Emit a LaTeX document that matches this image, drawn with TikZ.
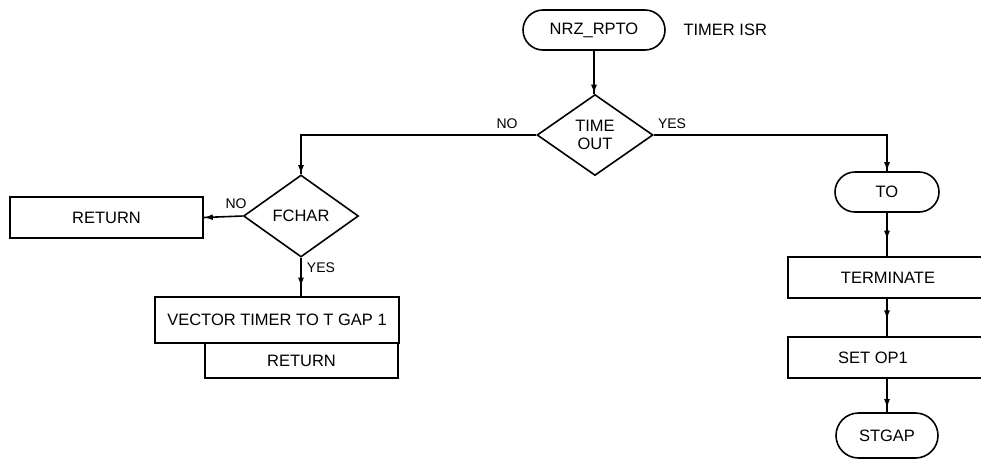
\documentclass[tikz,border=0pt]{standalone}
\usepackage{fontspec}
\setmainfont{Liberation Sans}
\usetikzlibrary{shapes.geometric,shapes.misc,arrows.meta,decorations.markings}
\begin{document}
\begin{tikzpicture}[x=1pt,y=-1pt,
  every node/.style={font=\fontsize{16.5}{18}\selectfont},
  line/.style={line width=1.6pt},
  termbox/.style={draw,line width=1.6pt,rounded rectangle,inner sep=0pt,minimum height=40pt},
  decbox/.style={draw,line width=1.6pt,diamond,inner sep=0pt,align=center,minimum width=116pt,minimum height=81pt},
  procbox/.style={draw,line width=1.6pt,rectangle,inner sep=0pt},
  lbl/.style={font=\fontsize{14}{16}\selectfont},
  arrowat/.style={postaction={decorate,decoration={markings,mark=at position #1 with {\arrow{Latex[length=9pt,width=6pt]}}}}}
]
\clip (0,0) rectangle (981,461);
\fill[white] (0,0) rectangle (981,461);

% main column
\node[termbox,minimum width=142pt] (nrz) at (594,30) {NRZ\_RPTO};
\node[anchor=west] (isr) at (680,30) {TIMER ISR};
\node[decbox] (tmo) at (595,135) {TIME\\OUT};

% left branch
\node[decbox,minimum width=115pt,minimum height=82pt] (fch) at (301,216) {FCHAR};
\node[procbox,minimum width=193pt,minimum height=41pt] (ret1) at (106.5,217.5) {RETURN};
\node[procbox,minimum width=244pt,minimum height=46pt] (vec) at (277,320) {VECTOR TIMER TO T GAP 1};
\node[procbox,minimum width=193pt,minimum height=35pt] (ret2) at (301.5,360.5) {RETURN};

% right branch
\node[termbox,minimum width=104pt] (tox) at (887,192) {TO};
\node[procbox,minimum width=200pt,minimum height=41pt] (term) at (888,277.5) {TERMINATE};
\node[procbox,minimum width=200pt,minimum height=41pt] (setop) at (888,357.5) {\hspace*{-30pt}SET OP1};
\node[termbox,minimum width=102pt,minimum height=45pt] (stg) at (887,435.5) {STGAP};

% labels
\node[lbl] (lno1) at (507,124) {NO};
\node[lbl] (lyes1) at (672,124) {YES};
\node[lbl] (lno2) at (236,204) {NO};
\node[lbl] (lyes2) at (321,268) {YES};

% connectors
\draw[line,arrowat=1] (nrz.south) -- (nrz.south |- tmo.north);
\draw[line,arrowat=1] (tmo.west) -| (fch.north);
\draw[line,arrowat=1] (tmo.east) -| (tox.north);
\draw[line,arrowat=1] (fch.west) -- (ret1.east);
\draw[line,arrowat=0.75] (fch.south) -- (fch.south |- vec.north);
\draw[line,arrowat=0.62] (tox.south) -- (term.north -| tox.south);
\draw[line,arrowat=0.55] (term.south -| tox.south) -- (setop.north -| tox.south);
\draw[line,arrowat=0.88] (setop.south -| stg.north) -- (stg.north);
\end{tikzpicture}
\end{document}
